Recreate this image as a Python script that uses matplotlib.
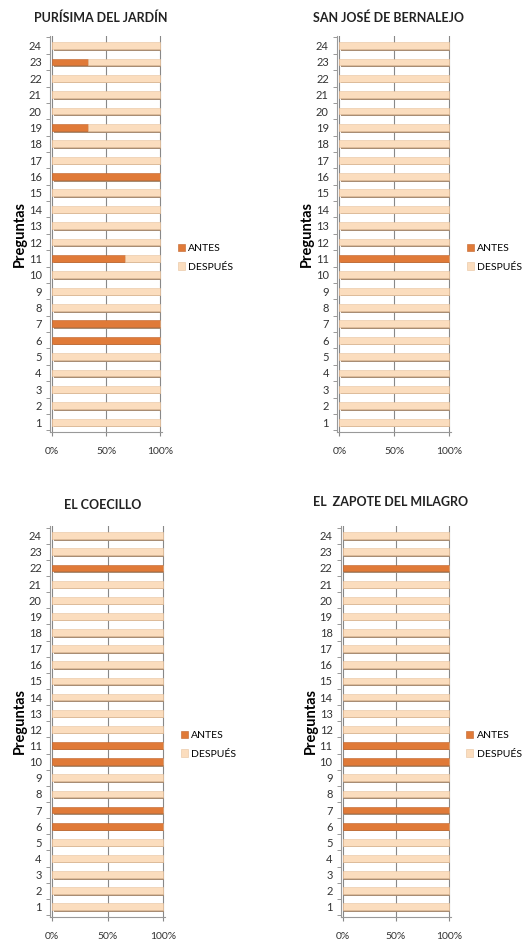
import matplotlib.pyplot as plt
import numpy as np

plt.rcParams["font.family"] = ["Lato", "DejaVu Sans"]

preguntas = list(range(1, 25))

titulos = [
    "PURÍSIMA DEL JARDÍN",
    "SAN JOSÉ DE BERNALEJO",
    "EL COECILLO",
    "EL  ZAPOTE DEL MILAGRO",
]

# fraction "ANTES" per question (rest is "DESPUÉS")
antes_purisima = {6: 1.0, 7: 1.0, 11: 0.67, 16: 1.0, 19: 0.33, 23: 0.33}
antes_sanjose = {11: 1.0}
antes_coecillo = {6: 1.0, 7: 1.0, 10: 1.0, 11: 1.0, 22: 1.0}
antes_zapote = {6: 1.0, 7: 1.0, 10: 1.0, 11: 1.0, 22: 1.0}
antes_all = [antes_purisima, antes_sanjose, antes_coecillo, antes_zapote]

COLOR_ANTES = "#E07A38"
COLOR_DESPUES = "#FBDDBE"

# [left, bottom, width, height] in figure fraction
posiciones = [
    [0.096, 0.541, 0.215, 0.421],
    [0.646, 0.541, 0.218, 0.421],
    [0.096, 0.026, 0.220, 0.415],
    [0.653, 0.026, 0.211, 0.415],
]
titulo_y = [0.981, 0.981, 0.463, 0.466]

fig = plt.figure(figsize=(5.22, 9.41), dpi=100)

for k in range(4):
    ax = fig.add_axes(posiciones[k])
    antes = np.array([antes_all[k].get(p, 0.0) for p in preguntas])
    despues = 1.0 - antes
    y = np.arange(len(preguntas))
    h = 0.42

    # shadow for a light 3D look
    ax.barh(y - 0.1, antes + despues, height=h, left=0.012, color="#A88D74",
            zorder=2)
    ax.barh(y, antes, height=h, color=COLOR_ANTES, edgecolor="#C0632A",
            linewidth=0.4, label="ANTES", zorder=3)
    ax.barh(y, despues, height=h, left=antes, color=COLOR_DESPUES,
            edgecolor="#E8C39E", linewidth=0.4, label="DESPUÉS", zorder=3)

    ax.set_xlim(-0.02, 1.02)
    ax.set_ylim(-0.6, len(preguntas) - 0.4)
    ax.set_yticks(y)
    ax.set_yticklabels([str(p) for p in preguntas], fontsize=8, color="#333333")
    ax.set_yticks(np.arange(-0.5, len(preguntas), 1), minor=True)
    ax.tick_params(axis="y", which="major", length=0, pad=6)
    ax.tick_params(axis="y", which="minor", length=3, color="#888888")
    ax.set_xticks([0, 0.5, 1.0])
    ax.set_xticklabels(["0%", "50%", "100%"], fontsize=7.5, color="#333333")
    ax.tick_params(axis="x", length=3, color="#888888", pad=8)
    ax.grid(axis="x", color="#888888", linewidth=0.8, zorder=0)
    for s in ["top", "right"]:
        ax.spines[s].set_visible(False)
    for s in ["left", "bottom"]:
        ax.spines[s].set_color("#999999")
        ax.spines[s].set_linewidth(0.8)

    ax.set_ylabel("Preguntas", fontsize=10.5, fontweight="bold", labelpad=1)
    fig.text(posiciones[k][0] + posiciones[k][2] / 2 - 0.01, titulo_y[k],
             titulos[k], ha="center", va="center", fontsize=9,
             fontweight="bold", color="#222222")

    handles, labels = ax.get_legend_handles_labels()
    ax.legend(handles, labels, loc="center left", bbox_to_anchor=(1.1, 0.44),
              frameon=False, fontsize=7.5, handlelength=0.7, handleheight=0.7,
              handletextpad=0.3, labelspacing=0.9, borderaxespad=0)

fig.savefig("out.png", dpi=100)
